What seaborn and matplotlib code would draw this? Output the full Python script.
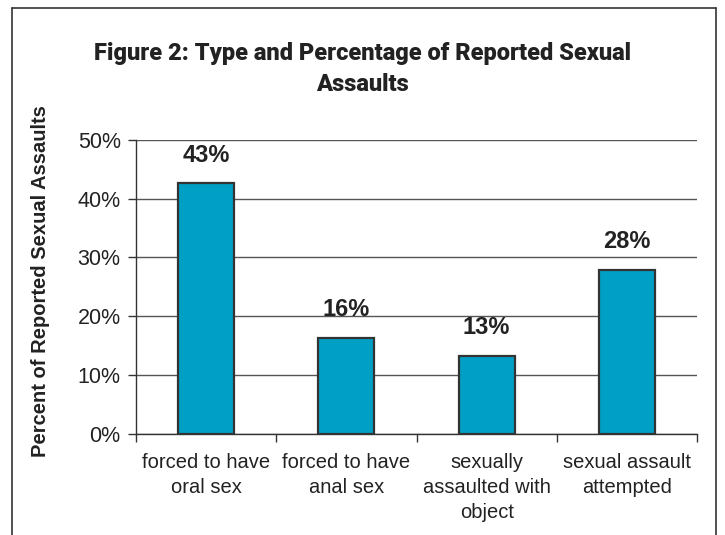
import matplotlib
matplotlib.use("Agg")
import matplotlib.pyplot as plt
import seaborn as sns
from matplotlib.lines import Line2D
from matplotlib.ticker import FixedLocator, PercentFormatter

# -----------------------------------
# DATA
# -----------------------------------

categories = [
    "forced to have\noral sex",
    "forced to have\nanal sex",
    "sexually\nassaulted with\nobject",
    "sexual assault\nattempted",
]
values = [42.6, 16.3, 13.2, 27.9]
y_ticks = [0, 10, 20, 30, 40, 50]

title = "Figure 2: Type and Percentage of Reported Sexual\nAssaults"
y_label = "Percent of Reported Sexual Assaults"

# -----------------------------------
# STYLE
# -----------------------------------

sns.set_theme(style="white")
plt.rcParams["font.family"] = ["Liberation Sans", "DejaVu Sans"]
text_color = "#222222"
bar_color = "#00A0C6"

fig = plt.figure(figsize=(7.25, 5.35), dpi=100)
ax = fig.add_axes([0.1876, 0.1897, 0.7738, 0.5486])

# -----------------------------------
# BARS
# -----------------------------------

sns.barplot(
    x=categories,
    y=values,
    color=bar_color,
    saturation=1,
    width=0.4,
    edgecolor="#333333",
    linewidth=1.6,
    ax=ax,
)

ax.bar_label(
    ax.containers[0],
    labels=[f"{v:.0f}%" for v in values],
    padding=12,
    fontsize=17,
    fontweight="bold",
    color=text_color,
)

# -----------------------------------
# AXES
# -----------------------------------

ax.set_xlim(-0.5, len(categories) - 0.5)
ax.set_ylim(0, 50)
ax.set_yticks(y_ticks)
ax.yaxis.set_major_formatter(PercentFormatter(decimals=0))
ax.grid(axis="y", color="#555555", linewidth=1)
ax.set_axisbelow(True)

ax.xaxis.set_minor_locator(FixedLocator([i - 0.5 for i in range(len(categories) + 1)]))
ax.tick_params(axis="x", which="major", length=0, pad=14, labelsize=14.5,
               labelcolor=text_color)
ax.tick_params(axis="x", which="minor", bottom=True, length=6, width=1,
               color="#333333")
ax.tick_params(axis="y", left=True, length=6, width=1, color="#333333",
               pad=5, labelsize=15.5, labelcolor=text_color)
for lbl in ax.get_xticklabels():
    lbl.set_linespacing(1.4)

for side in ["top", "right"]:
    ax.spines[side].set_visible(False)
for side in ["left", "bottom"]:
    ax.spines[side].set_color("#333333")
    ax.spines[side].set_linewidth(1)

ax.set_xlabel("")
ax.set_ylabel(y_label, fontsize=14.5, fontweight="bold", color=text_color,
              labelpad=20)
ax.yaxis.label.set_y(0.52)

# -----------------------------------
# TITLE + FRAME
# -----------------------------------

fig.text(0.5, 1 - 69 / 535, title, ha="center", va="center",
         fontsize=17, fontweight="heavy", color=text_color, linespacing=1.45,
         family=["Roboto", "DejaVu Sans"])

frame_kw = dict(color="#333333", linewidth=1.2, transform=fig.transFigure)
fig.add_artist(Line2D([12 / 725, 12 / 725], [0, 1 - 8 / 535], **frame_kw))
fig.add_artist(Line2D([12 / 725, 716 / 725], [1 - 8 / 535, 1 - 8 / 535], **frame_kw))
fig.add_artist(Line2D([716 / 725, 716 / 725], [0, 1 - 8 / 535], **frame_kw))

fig.savefig("out.png", dpi=100)
